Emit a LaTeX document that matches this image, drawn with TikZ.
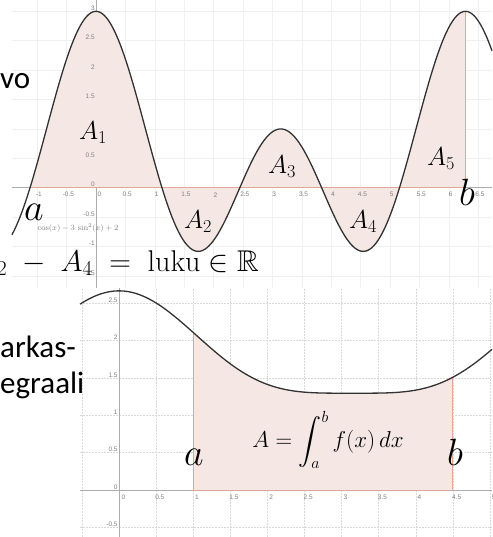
\RequirePackage{fix-cm}
\documentclass[tikz,border=0pt]{standalone}
\usepackage{amsmath,amsfonts,amssymb}
\usepackage{fontspec}
\newfontfamily\slidefont{Carlito}
\newfontfamily\tickfont{Liberation Sans}
\usepackage{xcolor}
\usepackage{tikz}
\usetikzlibrary{positioning}

\definecolor{areapink}{RGB}{245,232,228}
\definecolor{areaedge}{RGB}{221,168,150}
\definecolor{curvegray}{RGB}{50,50,50}
\definecolor{ticktext}{RGB}{125,125,125}

\tikzset{
  faintgrid/.style={gray!12, line width=0.6pt},
  dashgrid/.style={gray!30, line width=0.6pt, dash pattern=on 1.5pt off 1.5pt},
  axisline/.style={gray!65, line width=0.8pt},
  graph/.style={curvegray, line width=1.3pt, line join=round},
  region/.style={fill=areapink},
  regionedge/.style={areaedge, line width=0.9pt},
  ticklab/.style={text=ticktext, inner sep=0.5pt, font=\tickfont\fontsize{6.5}{7}\selectfont},
  arealab/.style={inner sep=0pt, font=\fontsize{26}{30}\selectfont},
  endlab/.style={inner sep=0pt, font=\fontsize{38}{40}\selectfont},
  slidetext/.style={inner sep=0pt, font=\slidefont\fontsize{31}{36}\selectfont},
}

\begin{document}
\begin{tikzpicture}[x=1pt, y=-1pt]

    \useasboundingbox (0,0) rectangle (492,537);

    % upper graph: cos(x) - 3 sin^2(x) + 2
    \begin{scope}[shift={(96,187.7)}, x=58.8pt, y=58.8pt]
        \foreach \i in {-2,...,13} \draw[faintgrid] (\i/2,-1.706) -- (\i/2,3.192);
        \foreach \j in {-3,...,6} \draw[faintgrid] (-1.429,\j/2) -- (6.735,\j/2);
        \draw[axisline] (-1.429,0) -- (6.735,0);
        \draw[axisline] (0,-1.706) -- (0,3.192);

        \fill[region] (-1.1223,0) -- plot[domain=-1.1223:6.2832, samples=160] (\x,{3*cos(\x r)*cos(\x r)+cos(\x r)-1}) -- (6.2832,0) -- cycle;
        \draw[regionedge] (-1.1223,0) -- (6.2832,0) -- (6.2832,3);
        \draw[graph] plot[domain=-1.429:6.735, samples=220] (\x,{3*cos(\x r)*cos(\x r)+cos(\x r)-1});

        \foreach \v [count=\k] in {-1,-0.5,0.5,1,1.5,2,2.5,3,3.5,4,4.5,5,5.5,6,6.5}
            \node[ticklab] (tx\k) at (\v+0.03,-0.12) {\v};
        \node[ticklab] (tx0) at (0.06,-0.12) {0};
        \foreach \v [count=\k] in {3,2.5,2,1.5,0.5,0,-0.5,-1,-1.5}
            \node[ticklab, anchor=south east] (ty\k) at (-0.01,\v) {\v};
    \end{scope}

    \node[text=ticktext, inner sep=0pt, font=\fontsize{8}{9}\selectfont] (fname) at (78,228) {$\cos(x) - 3\,\sin^2(x) + 2$};

    % lower graph
    \begin{scope}[shift={(119,490)}, x=74.2pt, y=74.7pt]
        \foreach \i in {-1,...,10} \draw[dashgrid] (\i/2,-0.629) -- (\i/2,2.704);
        \foreach \j in {-1,...,5} \draw[dashgrid] (-0.5256,\j/2) -- (5.027,\j/2);
        \draw[axisline] (-0.5256,0) -- (5.027,0);
        \draw[axisline] (0,-0.629) -- (0,2.704);

        \fill[region] (1,0) -- plot[domain=1:4.5, samples=100] (\x,{1.81+0.685*cos(\x r)+0.171*cos(2*\x r)}) -- (4.5,0) -- cycle;
        \draw[regionedge] (1,{1.81+0.685*cos(1 r)+0.171*cos(2 r)}) -- (1,0) -- (4.5,0) -- (4.5,{1.81+0.685*cos(4.5 r)+0.171*cos(9 r)});
        \draw[graph] plot[domain=-0.5256:5.027, samples=160] (\x,{1.81+0.685*cos(\x r)+0.171*cos(2*\x r)});

        \foreach \v [count=\k] in {0.5,1,1.5,2,2.5,3,3.5,4,4.5,5}
            \node[ticklab] (bx\k) at (\v+0.05,-0.1) {\v};
        \node[ticklab] (bx0) at (0.06,-0.1) {0};
        \foreach \v [count=\k] in {2.5,2,1.5,1,0.5,0,-0.5}
            \node[ticklab, anchor=south east] (by\k) at (-0.01,\v) {\v};
    \end{scope}

    % labels
    \node[arealab] (A1) at (93,133) {$A_1$};
    \node[arealab] (A2) at (198,222) {$A_2$};
    \node[arealab] (A3) at (282,167) {$A_3$};
    \node[arealab] (A4) at (363,222) {$A_4$};
    \node[arealab] (A5) at (441,159) {$A_5$};
    \node[endlab, anchor=base] (atop) at (34,220) {$a$};
    \node[endlab, anchor=base] (btop) at (467,205) {$b$};
    \node[endlab, anchor=base] (abot) at (194,465) {$a$};
    \node[endlab, anchor=base] (bbot) at (455,465) {$b$};
    \node[inner sep=0pt, font=\fontsize{23}{27}\selectfont] (intA) at (328,440) {$A = \displaystyle\int_a^b f(x)\,dx$};

    \node[inner sep=0pt, font=\fontsize{30}{34}\selectfont, anchor=base west] (sumtext) at (-3,271) {${}_2 \;-\; A_4 \;=\; \mathrm{luku} \in \mathbb{R}$};
    \node[slidetext, anchor=base west] (vo) at (0,89) {vo};
    \node[slidetext, anchor=base west] (arkas) at (0,357) {arkas-};
    \node[slidetext, anchor=base west] (egraali) at (0,393) {egraali};

\end{tikzpicture}
\end{document}
